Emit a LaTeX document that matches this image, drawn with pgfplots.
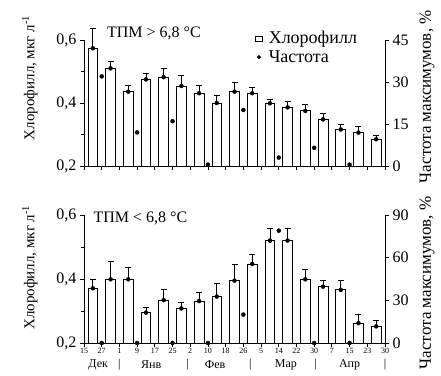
\documentclass[border=0pt]{standalone}
\usepackage{pgfplots}
\pgfplotsset{compat=1.18}
\usepackage{fontspec}
\setmainfont{Liberation Serif}

\pgfplotstableread{
x y e
0.5 0.574 0.064
1.5 0.510 0.021
2.5 0.436 0.021
3.5 0.475 0.019
4.5 0.482 0.028
5.5 0.454 0.035
6.5 0.431 0.026
7.5 0.400 0.023
8.5 0.436 0.028
9.5 0.431 0.019
10.5 0.399 0.014
11.5 0.386 0.018
12.5 0.375 0.019
13.5 0.348 0.019
14.5 0.316 0.017
15.5 0.306 0.021
16.5 0.285 0.013
}\chlA
\pgfplotstableread{
x f
1 32
3 12
5 16
7 0.5
9 20
11 3
13 6.5
15 0.5
}\frqA
\pgfplotstableread{
x y e
0.5 0.371 0.028
1.5 0.399 0.055
2.5 0.399 0.038
3.5 0.295 0.016
4.5 0.334 0.035
5.5 0.308 0.018
6.5 0.331 0.026
7.5 0.345 0.042
8.5 0.395 0.052
9.5 0.447 0.030
10.5 0.520 0.038
11.5 0.520 0.038
12.5 0.399 0.031
13.5 0.376 0.021
14.5 0.366 0.029
15.5 0.262 0.026
16.5 0.252 0.020
}\chlB
\pgfplotstableread{
x f
1 0
3 0
5 0
7 0
9 20
11 79
13 0
15 0
}\frqB

\pgfplotsset{
  base/.style={scale only axis, width=301bp, xmin=0, xmax=17,
    axis line style={-, line width=0.8pt, black},
    tick style={black, line width=0.8pt},
    tick align=outside, major tick length=4bp, minor tick length=3bp,
    /pgf/number format/assume math mode=true,
    ticklabel style={font=\fontsize{16bp}{18bp}\selectfont},
    label style={font=\fontsize{15bp}{17bp}\selectfont},
  },
  leftax/.style={base, ymin=0.2, ymax=0.6,
    axis x line*=bottom, axis y line*=left,
    xtick={0,...,17},
    ytick={0.2,0.4,0.6}, minor ytick={0.3,0.5},
    yticklabel style={/pgf/number format/.cd, fixed, fixed zerofill, precision=1, use comma},
    ylabel={Хлорофилл, мкг л\textsuperscript{-1}},
  },
  errax/.style={base, ymin=0.2, ymax=0.6, hide axis, clip=false},
  rightax/.style={base, axis y line*=right, axis x line=none, clip=false,
    ylabel={Частота максимумов, \%},
    ylabel style={font=\fontsize{17bp}{19bp}\selectfont}},
  bars/.style={ybar, bar width=0.55, draw=black, fill=white, line width=0.8pt},
  errs/.style={only marks, mark=none, error bars/.cd, y dir=plus, y explicit,
    error bar style={draw=black, solid, line width=0.8pt},
    error mark options={draw=black, rotate=90, mark size=3bp, line width=0.8pt}},
  dots/.style={only marks, mark=*, mark size=2bp, black},
}

\begin{document}
\begin{tikzpicture}
\useasboundingbox (0,0) rectangle (441bp,-376bp);

% ---------- top panel ----------
\begin{axis}[leftax, height=126bp, at={(84bp,-166bp)}, anchor=south west,
  xticklabels={},
  ylabel style={at={(axis description cs:-0.18,0.70)}, anchor=center}]
\addplot[bars] table[x=x,y=y] {\chlA};
\end{axis}
\begin{axis}[errax, height=126bp, at={(84bp,-166bp)}, anchor=south west]
\addplot[errs] table[x=x,y=y,y error=e] {\chlA};
\node[anchor=west, font=\fontsize{16bp}{18bp}\selectfont] at (axis description cs:0.065,1.056) {ТПМ > 6,8 \textdegree C};
\end{axis}
\begin{axis}[rightax, height=126bp, at={(84bp,-166bp)}, anchor=south west,
  ymin=0, ymax=45, ytick={0,15,30,45},
  ylabel style={at={(axis description cs:1.14,0.55)}, anchor=center},
  legend style={draw=none, fill=none, at={(axis description cs:0.568,1.085)}, anchor=north west,
    font=\fontsize{18bp}{20bp}\selectfont, row sep=1bp, inner sep=0pt,
    /tikz/every odd column/.append style={column sep=4bp}},
  legend cell align=left]
\addlegendimage{legend image code/.code={\draw[black, line width=0.6pt, fill=white] (1bp,-2.5bp) rectangle (8bp,2.5bp);}}
\addlegendentry{Хлорофилл}
\addplot[dots, legend image code/.code={\fill[black] (4.5bp,0) circle (1.8bp);}] table[x=x,y=f] {\frqA};
\addlegendentry{Частота}
\end{axis}

% ---------- bottom panel ----------
\begin{axis}[leftax, height=128bp, at={(84bp,-343bp)}, anchor=south west,
  xticklabels={15,27,1,9,17,25,2,10,18,26,5,14,22,30,7,15,23,30},
  xticklabel style={font=\fontsize{8bp}{9bp}\selectfont, inner sep=1bp},
  ylabel style={at={(axis description cs:-0.18,0.59)}, anchor=center}]
\addplot[bars] table[x=x,y=y] {\chlB};
\end{axis}
\begin{axis}[errax, height=128bp, at={(84bp,-343bp)}, anchor=south west]
\addplot[errs] table[x=x,y=y,y error=e] {\chlB};
\node[anchor=west, font=\fontsize{16bp}{18bp}\selectfont] at (axis description cs:0.02,0.977) {ТПМ < 6,8 \textdegree C};
\end{axis}
\begin{axis}[rightax, height=128bp, at={(84bp,-343bp)}, anchor=south west,
  ymin=0, ymax=90, ytick={0,30,60,90},
  ylabel style={at={(axis description cs:1.14,0.47)}, anchor=center}]
\addplot[dots] table[x=x,y=f] {\frqB};
\begin{scope}[every node/.style={font=\fontsize{12bp}{13bp}\selectfont, yshift=-22bp}]
\node at (axis cs:0.8,0) {Дек};
\node at (axis cs:3.8,0) {Янв};
\node at (axis cs:7.4,0) {Фев};
\node at (axis cs:11.4,0) {Мар};
\node at (axis cs:15.0,0) {Апр};
\node at (axis cs:2,0) {|};
\node at (axis cs:5.85,0) {|};
\node at (axis cs:9.4,0) {|};
\node at (axis cs:13.1,0) {|};
\node at (axis cs:17,0) {|};
\end{scope}
\end{axis}
\end{tikzpicture}
\end{document}
